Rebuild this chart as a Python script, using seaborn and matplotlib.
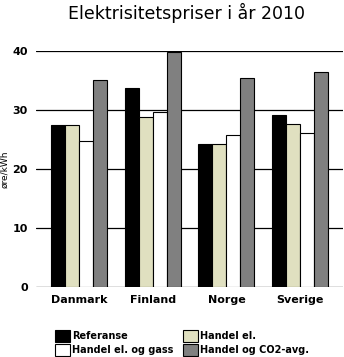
import matplotlib
matplotlib.use("Agg")
import matplotlib.pyplot as plt
from matplotlib.patches import Patch
import seaborn as sns
import pandas as pd

# Electricity prices in 2010 (øre/kWh) per country and scenario
countries = ["Danmark", "Finland", "Norge", "Sverige"]
scenarios = ["Referanse", "Handel el.", "Handel el. og gass", "Handel og CO2-avg."]
referanse = [27.5, 33.7, 24.2, 29.2]
handel_el = [27.5, 28.8, 24.2, 27.6]
handel_el_gass = [24.8, 29.7, 25.8, 26.1]
handel_co2 = [35.1, 39.9, 35.4, 36.4]
y_ticks = [0, 10, 20, 30, 40]

colors = ["#000000", "#e0e0c0", "#ffffff", "#808080"]

rows = []
for name, vals in zip(scenarios, [referanse, handel_el, handel_el_gass, handel_co2]):
    for c, v in zip(countries, vals):
        rows.append({"land": c, "scenario": name, "pris": v})
df = pd.DataFrame(rows)

sns.set_style("white")
plt.rcParams["font.family"] = ["DejaVu Sans"]
plt.rcParams["text.color"] = "black"
plt.rcParams["axes.labelcolor"] = "black"
plt.rcParams["xtick.color"] = "black"
plt.rcParams["ytick.color"] = "black"

fig = plt.figure(figsize=(3.44, 3.57), dpi=100)
ax = fig.add_axes([36 / 344, 1 - 287 / 357, 307 / 344, 236 / 357])

sns.barplot(data=df, x="land", y="pris", hue="scenario", order=countries,
            hue_order=scenarios, palette=colors, width=0.76,
            edgecolor="black", linewidth=0.8, saturation=1, ax=ax,
            legend=False, zorder=3)

ax.set_xlim(-0.58, 3.58)
ax.set_ylim(0, 40)
ax.set_yticks(y_ticks)
ax.yaxis.grid(True, color="black", linewidth=0.9, zorder=0)
ax.set_axisbelow(True)
for s in ax.spines.values():
    s.set_visible(False)
ax.tick_params(axis="both", length=0, labelsize=8)
ax.tick_params(axis="y", pad=6)
ax.tick_params(axis="x", pad=6)
for lbl in ax.get_xticklabels() + ax.get_yticklabels():
    lbl.set_fontweight("bold")
ax.set_xlabel("")
ax.set_ylabel("øre/kWh", fontsize=6.5, labelpad=2)

fig.text(187 / 344, 1 - 13 / 357, "Elektrisitetspriser i år 2010",
         ha="center", va="center", fontsize=12.5, color="black")

handles = [Patch(facecolor=c, edgecolor="black", linewidth=0.8) for c in colors]
order = [0, 2, 1, 3]
fig.legend([handles[i] for i in order], [scenarios[i] for i in order],
           ncol=2, loc="upper left", bbox_to_anchor=(55 / 344, 1 - 330 / 357),
           frameon=False, fontsize=7, handlelength=1.5, handleheight=1.6,
           handletextpad=0.25, columnspacing=1.0, labelspacing=0.12,
           borderpad=0, borderaxespad=0)
for t in fig.legends[0].get_texts():
    t.set_fontweight("bold")

fig.savefig("out.png", dpi=100)
